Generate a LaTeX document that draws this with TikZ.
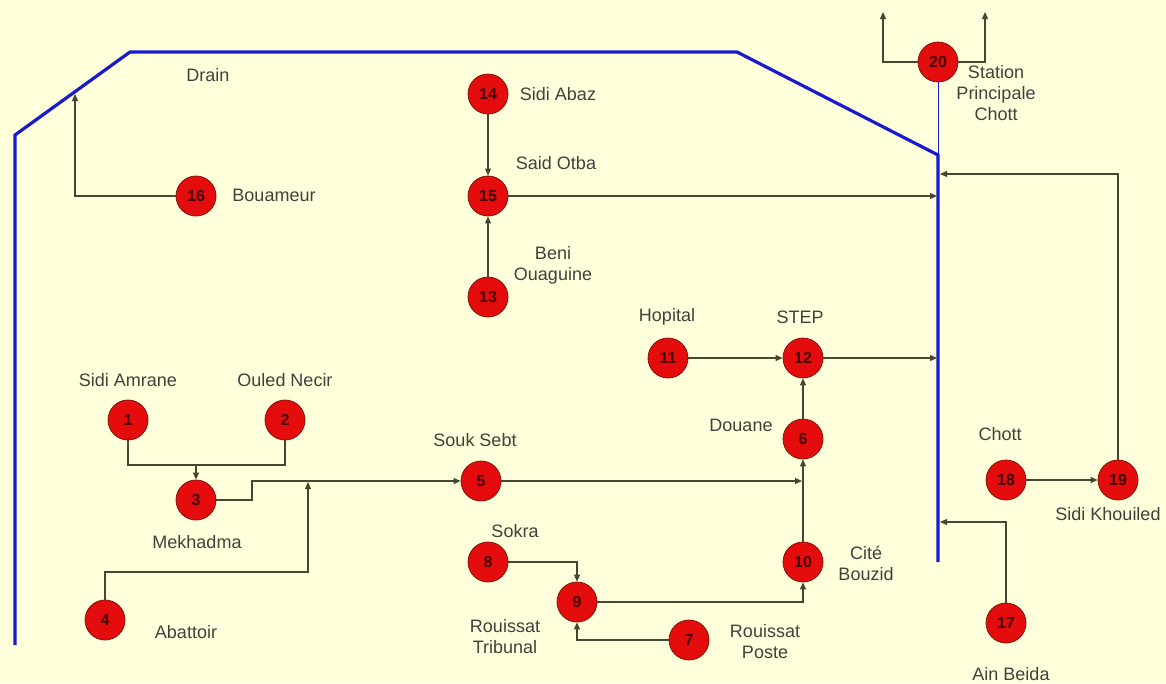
\documentclass[tikz,border=0pt]{standalone}
\usepackage{fontspec}
\setmainfont{Liberation Sans}
\usetikzlibrary{arrows.meta}
\definecolor{bg}{RGB}{255,255,220}
\definecolor{nodered}{RGB}{228,12,12}
\definecolor{noderim}{RGB}{130,20,10}
\definecolor{numtxt}{RGB}{70,0,0}
\definecolor{wire}{RGB}{70,70,50}
\definecolor{drain}{RGB}{25,25,205}
\definecolor{lbl}{RGB}{65,65,60}
\begin{document}
\begin{tikzpicture}[x=1pt,y=-1pt,
  st/.style={circle,fill=nodered,draw=noderim,line width=0.8pt,minimum size=40pt,inner sep=0pt,font=\fontsize{16}{16}\selectfont\bfseries,text=numtxt},
  lab/.style={font=\fontsize{18}{21}\selectfont,text=lbl,align=center,inner sep=0pt},
  wireln/.style={draw=wire,line width=1.2pt},
  arr/.style={wireln,-{Triangle[length=7pt,width=6pt]}},
  drainln/.style={draw=drain,line width=3.2pt,line join=miter}]
\fill[bg] (0,0) rectangle (1166,683);
\useasboundingbox (0,0) rectangle (1166,683);
% drain
\coordinate (d0) at (15,645);
\coordinate (d1) at (15,135);
\coordinate (d2) at (130,52);
\coordinate (d3) at (737,52);
\coordinate (d4) at (938,155);
\coordinate (d5) at (938,562);
\draw[drainln] (d0) -- (d1) -- (d2) -- (d3) -- (d4) -- (d5);
% stations
\node[st] (n1) at (128,420) {1};
\node[st] (n2) at (285,420) {2};
\node[st] (n3) at (196,500) {3};
\node[st] (n4) at (105,620) {4};
\node[st] (n5) at (481,481) {5};
\node[st] (n6) at (803,439) {6};
\node[st] (n7) at (689,640) {7};
\node[st] (n8) at (488,562) {8};
\node[st] (n9) at (577,602) {9};
\node[st] (n10) at (803,562) {10};
\node[st] (n11) at (668,358) {11};
\node[st] (n12) at (803,358) {12};
\node[st] (n13) at (488,297) {13};
\node[st] (n14) at (488,94) {14};
\node[st] (n15) at (488,196) {15};
\node[st] (n16) at (196,196) {16};
\node[st] (n17) at (1006,623) {17};
\node[st] (n18) at (1006,480) {18};
\node[st] (n19) at (1118,480) {19};
\node[st] (n20) at (938,62) {20};
\draw[draw=drain,line width=1pt] (n20) -- (d4);
% connectors
\coordinate (t16) at (75,94);
\draw[arr] (n16) -| (t16);
\draw[arr] (n14) -- (n15);
\draw[arr] (n13) -- (n15);
\coordinate (t15) at (937,196);
\draw[arr] (n15) -- (t15);
\coordinate (t19) at (940,174);
\draw[arr] (n19) |- (t19);
\coordinate (t12) at (937,358);
\draw[arr] (n12) -- (t12);
\draw[arr] (n11) -- (n12);
\draw[arr] (n6) -- (n12);
\draw[arr] (n10) -- (n6);
\coordinate (t5) at (802,481);
\draw[arr] (n5) -- (t5);
\coordinate (c3) at (252,500);
\draw[arr] (n3) -- (c3) |- (n5);
\coordinate (c4) at (308,572);
\coordinate (t4) at (308,482);
\draw[arr] (n4) |- (c4) -- (t4);
\coordinate (j12) at (196,465);
\draw[wireln] (n1) |- (j12);
\draw[wireln] (n2) |- (j12);
\draw[arr] (j12) -- (n3);
\draw[arr] (n8) -| (n9);
\draw[arr] (n7) -| (n9);
\draw[arr] (n9) -| (n10);
\draw[arr] (n18) -- (n19);
\coordinate (t17) at (940,522);
\draw[arr] (n17) |- (t17);
\coordinate (u1) at (883,12);
\coordinate (u2) at (985,12);
\draw[arr] (n20) -| (u1);
\draw[arr] (n20) -| (u2);
% labels
\node[lab] (lDrain) at (208,75) {Drain};
\node[lab] (lSA) at (558,94) {Sidi Abaz};
\node[lab] (lSP) at (996,93) {Station\\Principale\\Chott};
\node[lab] (lBou) at (274,195) {Bouameur};
\node[lab] (lSO) at (556,163) {Said Otba};
\node[lab] (lBO) at (553,265) {Beni\\Ouaguine};
\node[lab] (lHop) at (667,317) {Hopital};
\node[lab] (lSTEP) at (800,317) {STEP};
\node[lab] (lSAm) at (128,380) {Sidi Amrane};
\node[lab] (lON) at (285,380) {Ouled Necir};
\node[lab] (lSS) at (475,440) {Souk Sebt};
\node[lab] (lDou) at (741,425) {Douane};
\node[lab] (lCh) at (1000,434) {Chott};
\node[lab] (lMek) at (197,542) {Mekhadma};
\node[lab] (lSok) at (515,531) {Sokra};
\node[lab] (lCB) at (866,563) {Cité\\Bouzid};
\node[lab] (lSK) at (1108,514) {Sidi Khouiled};
\node[lab] (lAba) at (186,632) {Abattoir};
\node[lab] (lRT) at (505,637) {Rouissat\\Tribunal};
\node[lab] (lRP) at (765,642) {Rouissat\\Poste};
\node[lab] (lAB) at (1011,674) {Ain Beida};
\end{tikzpicture}
\end{document}
